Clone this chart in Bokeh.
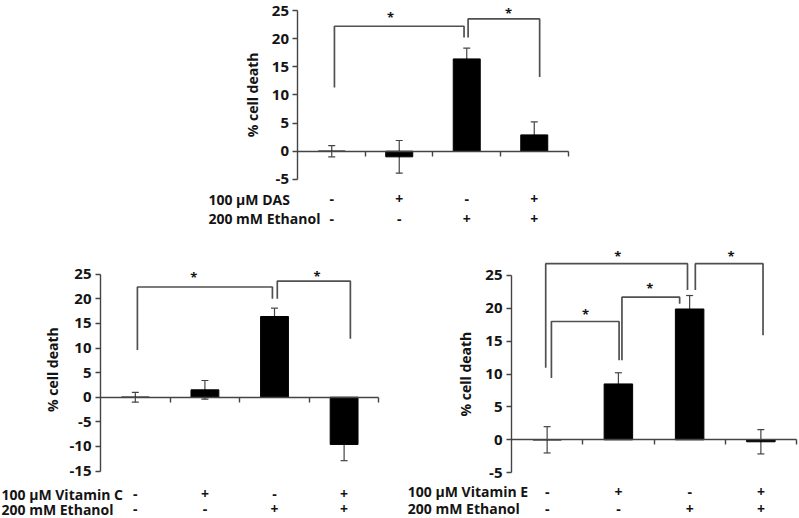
import math
from bokeh.plotting import figure
from bokeh.models import ColumnDataSource, Range1d, FixedTicker, Whisker, TeeHead, Spacer
from bokeh.layouts import column, row
from bokeh.embed import file_html
from bokeh.resources import INLINE
from bokeh.core.properties import value

# ---------------- data ----------------
groups = [1, 2, 3, 4]
y_ticks = [-15, -10, -5, 0, 5, 10, 15, 20, 25]
ethanol_label = "200 mM Ethanol"
ethanol_signs = ["-", "-", "+", "+"]
treat_signs = ["-", "+", "-", "+"]
y_title = "% cell death"

# Panel 1: DAS
das_label = "100 \u00b5M DAS"
das_mean = [0.0, -1.0, 16.4, 2.9]
das_err = [1.0, 2.9, 1.9, 2.3]
# brackets: (x left, x right, top, left foot, right foot)
das_brackets = [(1.04, 2.96, 22.2, 11.3, 20.2), (3.02, 4.08, 23.5, 20.2, 13.2)]
das_star_x = [1.87, 3.62]
das_star_y = [23.8, 24.5]

# Panel 2: Vitamin C
vc_label = "100 \u00b5M Vitamin C"
vc_mean = [0.0, 1.5, 16.4, -9.6]
vc_err = [1.0, 1.9, 1.7, 3.3]
vc_brackets = [(1.03, 2.97, 22.4, 9.6, 20.0), (3.04, 4.09, 23.6, 20.0, 11.9)]
vc_star_x = [1.84, 3.61]
vc_star_y = [24.4, 24.55]

# Panel 3: Vitamin E
ve_label = "100 \u00b5M Vitamin E"
ve_mean = [0.0, 8.5, 19.9, -0.3]
ve_err = [2.0, 1.7, 2.05, 1.85]
ve_brackets = [(0.98, 2.97, 26.8, 10.95, 22.8), (1.06, 2.01, 18.0, 9.4, 12.1),
               (2.05, 2.86, 21.7, 12.1, 20.7), (3.08, 4.03, 26.8, 22.8, 15.9)]
ve_star_x = [1.99, 1.54, 2.44, 3.58]
ve_star_y = [28.0, 19.2, 23.1, 28.0]

FONT = "Open Sans"
TXT = "#141414"
AX = "#444444"


def make_panel(mean, err, treat_label, brackets, star_x, star_y, geo):
    p = figure(width=geo["w"], height=geo["h"], output_backend="svg", toolbar_location=None,
               x_range=Range1d(geo["xmin"], geo["xmax"]), y_range=Range1d(geo["ymin"], geo["ymax"]),
               x_axis_location="above", y_axis_location="right",
               min_border_left=0, min_border_right=0, min_border_top=0,
               min_border_bottom=0, tools="")
    p.outline_line_color = None
    p.grid.visible = False
    p.background_fill_color = "white"
    p.border_fill_color = "white"

    ybot = geo["ybot"]
    ticks = [t for t in y_ticks if t >= ybot]

    # y axis, drawn at x = 0.5 inside the frame, ticks pointing left
    ya = p.yaxis[0]
    ya.fixed_location = 0.5
    ya.ticker = FixedTicker(ticks=ticks)
    ya.bounds = (ybot, 25)
    ya.axis_line_color = AX
    ya.axis_line_width = 1.4
    ya.major_tick_line_color = AX
    ya.major_tick_line_width = 1.4
    ya.major_tick_in = 5
    ya.major_tick_out = 0
    ya.minor_tick_line_color = None
    ya.major_label_standoff = 0
    ya.major_label_text_font_size = "0px"
    ya.major_label_text_color = None

    # x axis at zero, ticks pointing down
    xa = p.xaxis[0]
    xa.fixed_location = 0
    xa.ticker = FixedTicker(ticks=[g + 0.5 for g in groups])
    xa.bounds = (0.5, 4.5)
    xa.axis_line_color = AX
    xa.axis_line_width = 1.4
    xa.major_tick_line_color = AX
    xa.major_tick_line_width = 1.4
    xa.major_tick_in = 5
    xa.major_tick_out = 0
    xa.minor_tick_line_color = None
    xa.major_label_standoff = 0
    xa.major_label_text_font_size = "0px"
    xa.major_label_text_color = None

    # y tick labels
    p.text(x=[0.5] * len(ticks), y=ticks, text=[str(t) for t in ticks], x_offset=-9,
           text_align="right", text_baseline="middle", text_font=value(FONT),
           text_font_style="bold", text_font_size="15px", text_color=TXT)

    src = ColumnDataSource(dict(x=groups, top=mean,
                                upper=[m + e for m, e in zip(mean, err)],
                                lower=[m - e for m, e in zip(mean, err)]))
    p.vbar(x="x", top="top", bottom=0, width=0.4, source=src,
           fill_color="black", line_color="black")
    p.add_layout(Whisker(base="x", upper="upper", lower="lower", source=src,
                         dimension="height", line_color=AX, line_width=1.2,
                         upper_head=TeeHead(size=7, line_color=AX, line_width=1.2),
                         lower_head=TeeHead(size=7, line_color=AX, line_width=1.2)))

    xs, ys = [], []
    for (x0, x1, top, f0, f1) in brackets:
        xs.append([x0, x0, x1, x1])
        ys.append([f0, top, top, f1])
    p.multi_line(xs=xs, ys=ys, line_color="#505050", line_width=1.7)
    p.text(x=star_x, y=star_y, text=["*"] * len(star_x), text_align="center",
           text_baseline="middle", text_font=value(FONT), text_font_style="bold",
           text_font_size="13px", text_color=TXT)

    # y title
    p.text(x=[geo["ylab_x"]], y=[geo["ylab_y"]], text=[y_title], angle=math.pi / 2,
           text_align="center", text_baseline="middle", text_font=value(FONT),
           text_font_style="bold", text_font_size="14px", text_color=TXT)

    # treatment table
    for lab, signs, yy in ((treat_label, treat_signs, geo["row1"]),
                           (ethanol_label, ethanol_signs, geo["row2"])):
        p.text(x=[geo["rowx"]], y=[yy], text=[lab], text_align="left", text_baseline="middle",
               text_font=value(FONT), text_font_style="bold", text_font_size="14px",
               text_color=TXT)
        p.text(x=groups, y=[yy] * len(groups), text=signs, text_align="center",
               text_baseline="middle", text_font=value(FONT), text_font_style="bold",
               text_font_size="14px", text_color=TXT)
    return p


geo_top = dict(w=375, h=230, xmin=-0.944, xmax=4.611, ymin=-14.09, ymax=26.78, ybot=-5,
               ylab_x=-0.174, ylab_y=10, rowx=-0.826, row1=-8.58, row2=-12.0)
geo_left = dict(w=402, h=288, xmin=-0.937, xmax=4.839, ymin=-24.65, ymax=33.88, ybot=-15,
                ylab_x=-0.194, ylab_y=5.6, rowx=-0.922, row1=-19.7, row2=-22.75)
geo_right = dict(w=396, h=288, xmin=-1.030, xmax=4.528, ymin=-11.97, ymax=31.84, ybot=-5,
                 ylab_x=-0.146, ylab_y=10, rowx=-0.955, row1=-7.9, row2=-10.5)

p1 = make_panel(das_mean, das_err, das_label, das_brackets, das_star_x, das_star_y, geo_top)
p2 = make_panel(vc_mean, vc_err, vc_label, vc_brackets, vc_star_x, vc_star_y, geo_left)
p3 = make_panel(ve_mean, ve_err, ve_label, ve_brackets, ve_star_x, ve_star_y, geo_right)

layout = column(row(Spacer(width=200, height=230), p1), row(p2, p3), spacing=0)
open("out.html", "w").write(file_html(layout, INLINE))
